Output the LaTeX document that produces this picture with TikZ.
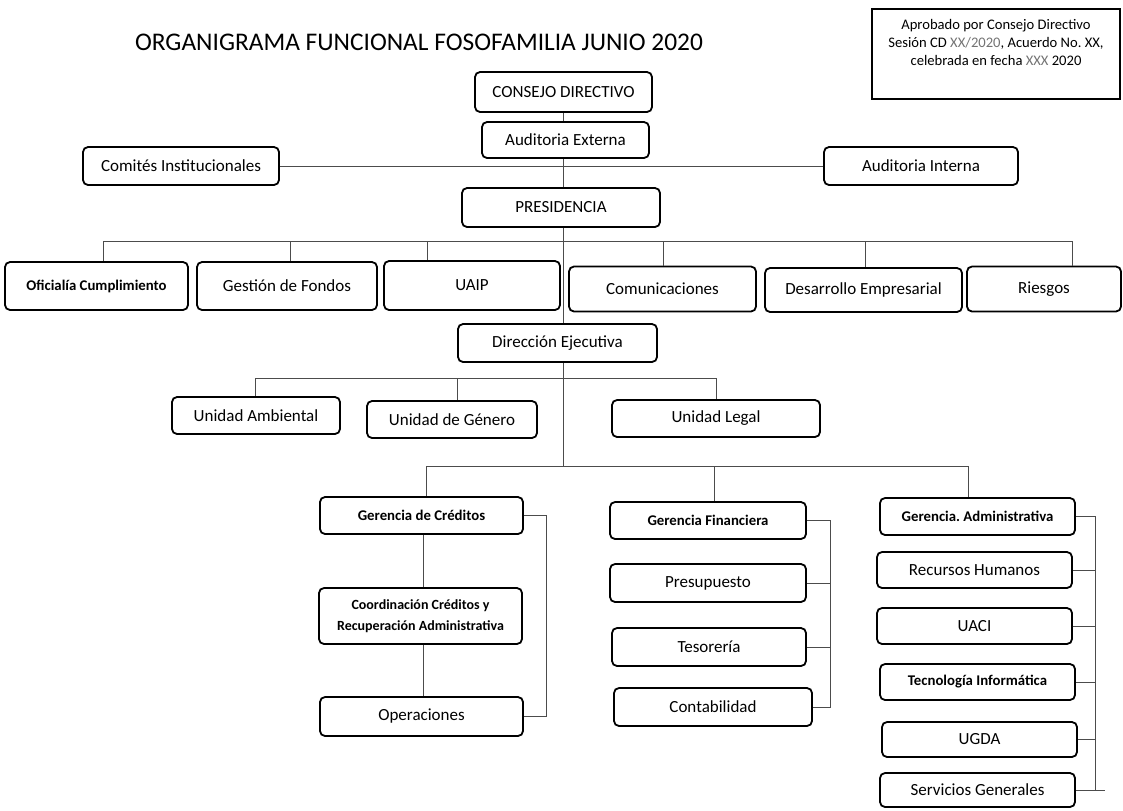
\documentclass[tikz,border=0pt]{standalone}
\usepackage{fontspec}
\setmainfont{Carlito}
\usetikzlibrary{calc}

\tikzset{
  unit/.style={draw, line width=0.9pt, rounded corners=2.5pt, fill=white, inner sep=1pt,
    align=center, font=\fontsize{8.5}{10}\selectfont},
  unitbold/.style={unit, font=\fontsize{7.4}{9}\selectfont\bfseries},
  boxsize/.style 2 args={minimum width=#1*0.5pt, minimum height=#2*0.5pt},
  link/.style={draw=black!70, line width=0.5pt},
}

\begin{document}
\begin{tikzpicture}[x=0.5pt, y=-0.5pt]
      \useasboundingbox (0,0) rectangle (1123,810);
      \node[font=\fontsize{12.7}{15}\selectfont] (title) at (419,42) {ORGANIGRAMA FUNCIONAL FOSOFAMILIA JUNIO 2020};
      \node[draw, line width=0.8pt, boxsize={248}{90}, inner sep=0pt, align=center,
        font=\fontsize{7.3}{9}\selectfont] (aprob) at (996,54)
        {Aprobado por Consejo Directivo\\Sesión CD {\color{black!55}XX/2020}, Acuerdo No.\ XX,\\celebrada en fecha {\color{black!55}XXX} 2020\\[3pt]\mbox{}};

      \coordinate (trunk) at (563,0);
      \node[unit, boxsize={177}{40}] (consejo) at (563.5,92) {CONSEJO DIRECTIVO};
      \node[unit, boxsize={167}{36}] (audext) at (565.5,140) {Auditoria Externa};
      \node[unit, boxsize={196}{38}] (comites) at (181,166) {Comités Institucionales};
      \node[unit, boxsize={194}{38}] (audint) at (921,166) {Auditoria Interna};
      \node[unit, boxsize={198}{39}] (pres) at (561,207.5) {PRESIDENCIA};

      \node[unitbold, boxsize={183}{48}] (ofic) at (96.5,286) {Oficialía Cumplimiento};
      \node[unit, boxsize={180}{48}] (gest) at (287,286) {Gestión de Fondos};
      \node[unit, boxsize={176}{49}] (uaip) at (472,285.5) {UAIP};
      \node[unit, boxsize={187}{45}] (comu) at (662.5,289) {Comunicaciones};
      \node[unit, boxsize={197}{44}] (desa) at (863.5,290) {Desarrollo Empresarial};
      \node[unit, boxsize={154}{45}] (ries) at (1044,289) {Riesgos};

      \node[unit, boxsize={199}{38}] (direj) at (557.5,343) {Dirección Ejecutiva};
      \node[unit, boxsize={168}{37}] (unamb) at (256,415.5) {Unidad Ambiental};
      \node[unit, boxsize={170}{37}] (ungen) at (452,419.5) {Unidad de Género};
      \node[unit, boxsize={208}{37}] (unleg) at (716,418.5) {Unidad Legal};

      \node[unitbold, boxsize={203}{37}] (gcred) at (421.5,515.5) {Gerencia de Créditos};
      \node[unitbold, boxsize={203}{56}, font=\fontsize{7}{10.5}\selectfont\bfseries] (coord) at (420.5,616)
        {Coordinación Créditos y\\Recuperación Administrativa};
      \node[unit, boxsize={203}{39}] (oper) at (421.5,716.5) {Operaciones};

      \node[unitbold, boxsize={196}{37}] (gfin) at (708,520.5) {Gerencia Financiera};
      \node[unit, boxsize={196}{38}] (presu) at (708,583) {Presupuesto};
      \node[unit, boxsize={194}{38}] (teso) at (709,647) {Tesorería};
      \node[unit, boxsize={198}{38}] (cont) at (713,707) {Contabilidad};

      \node[unitbold, boxsize={195}{37}] (gadm) at (977.5,516.5) {Gerencia.\ Administrativa};
      \node[unit, boxsize={195}{36}] (rrhh) at (974.5,570) {Recursos Humanos};
      \node[unit, boxsize={195}{36}] (uaci) at (974.5,626) {UACI};
      \node[unitbold, boxsize={195}{36}] (tecinf) at (977.5,682) {Tecnología Informática};
      \node[unit, boxsize={195}{35}] (ugda) at (979.5,739.5) {UGDA};
      \node[unit, boxsize={195}{34}] (sgen) at (977.5,790) {Servicios Generales};

      % main line
      \draw[link] (consejo.south -| trunk) -- (audext.north -| trunk);
      \draw[link] (audext.south -| trunk) -- (pres.north -| trunk);
      \draw[link] (comites.east) -- (audint.west);
      \draw[link] (pres.south -| trunk) -- (direj.north -| trunk);

      \coordinate (busa) at (563,241);
      \draw[link] (103,241) -- (1072,241);
      \foreach \n/\x in {ofic/103, gest/290, uaip/427, comu/663, desa/865, ries/1072}
        \draw[link] (\x,241) -- (\n.north -| \x,241);

      \coordinate (busb) at (563,378);
      \draw[link] (255,378) -- (716,378);
      \foreach \n/\x in {unamb/255, ungen/457, unleg/716}
        \draw[link] (\x,378) -- (\n.north -| \x,378);

      \coordinate (busc) at (563,466);
      \draw[link] (direj.south -| trunk) -- (busc);
      \draw[link] (426,466) -- (968,466);
      \foreach \n/\x in {gcred/426, gfin/714, gadm/968}
        \draw[link] (\x,466) -- (\n.north -| \x,466);

      % creditos
      \coordinate (credrail) at (546,0);
      \draw[link] (gcred.south -| 423,0) -- (coord.north -| 423,0);
      \draw[link] (coord.south -| 423,0) -- (oper.north -| 423,0);
      \draw[link] (gcred.east) -- (gcred.east -| credrail) -- (oper.east -| credrail) -- (oper.east);

      % financiera
      \coordinate (finrail) at (830,0);
      \draw[link] (gfin.east) -- (gfin.east -| finrail) -- (cont.east -| finrail) -- (cont.east);
      \foreach \n in {presu, teso}
        \draw[link] (\n.east) -- (\n.east -| finrail);

      % administrativa
      \coordinate (admrail) at (1095,0);
      \draw[link] (gadm.east) -- (gadm.east -| admrail) -- (sgen.east -| admrail);
      \draw[link] (sgen.east) -- (sgen.east -| 1105,0);
      \foreach \n in {rrhh, uaci, tecinf, ugda}
        \draw[link] (\n.east) -- (\n.east -| admrail);
\end{tikzpicture}
\end{document}
